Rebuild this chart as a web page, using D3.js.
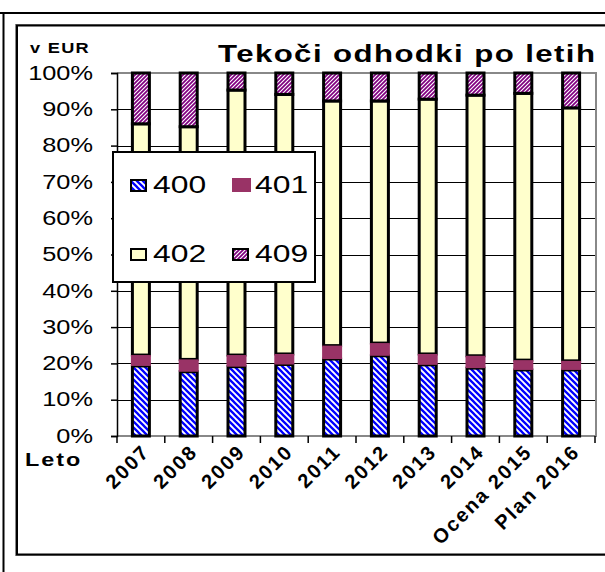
<!DOCTYPE html>
<meta charset="utf-8">
<style>
body { margin: 0; background: #fff; }
text { font-family: "Liberation Sans", Arial, sans-serif; }
</style>
<svg width="605" height="572"></svg>
<script src="https://d3js.org/d3.v7.min.js"></script>
<script>

var years = ["2007", "2008", "2009", "2010", "2011", "2012", "2013", "2014", "Ocena 2015", "Plan 2016"];
var s400 = [19.3, 17.7, 19.1, 19.7, 21.2, 22.1, 19.6, 18.7, 18.2, 18.2];
var s401 = [3.0, 3.4, 3.2, 2.9, 3.7, 3.5, 3.0, 3.4, 2.7, 2.5];
var s402 = [63.7, 64.1, 73.0, 71.5, 67.4, 66.7, 70.2, 71.8, 73.5, 69.7];
var s409 = [14.0, 14.8, 4.7, 5.9, 7.7, 7.7, 7.2, 6.1, 5.6, 9.6];
var keys = ["400", "401", "402", "409"];
var yTicks = [0, 0.1, 0.2, 0.3, 0.4, 0.5, 0.6, 0.7, 0.8, 0.9, 1];

var svg = d3.select("svg"),
    width = +svg.attr("width"),
    height = +svg.attr("height"),
    sx = 1.3; // the text in the original looks stretched sideways

var defs = svg.append("defs");

var p400 = defs.append("pattern").attr("id", "p400")
    .attr("patternUnits", "userSpaceOnUse").attr("width", 6).attr("height", 6);
p400.append("rect").attr("width", 6).attr("height", 6).attr("fill", "#fff");
p400.append("path").attr("d", "M-1,-1L7,7M-4,2L2,8M2,-4L8,2")
    .attr("stroke", "#0000ff").attr("stroke-width", 2.3);

var p409 = defs.append("pattern").attr("id", "p409")
    .attr("patternUnits", "userSpaceOnUse").attr("width", 4).attr("height", 4);
p409.append("rect").attr("width", 4).attr("height", 4).attr("fill", "#800080");
p409.append("path").attr("d", "M-1,5L5,-1M-1,1L1,-1M3,5L5,3")
    .attr("stroke", "#fff").attr("stroke-width", 1.1);

var fills = {"400": "url(#p400)", "401": "#993366", "402": "#ffffcc", "409": "url(#p409)"};

// frames
svg.append("line").attr("x1", 0).attr("x2", width).attr("y1", 13).attr("y2", 13)
    .attr("stroke", "#000").attr("stroke-width", 2);
svg.append("line").attr("x1", 3.5).attr("x2", 3.5).attr("y1", 13).attr("y2", height)
    .attr("stroke", "#000").attr("stroke-width", 2);
svg.append("rect").attr("x", 15.5).attr("y", 24.5).attr("width", 620).attr("height", 531)
    .attr("fill", "none").attr("stroke", "#888").attr("stroke-width", 1);
svg.append("rect").attr("x", 17).attr("y", 25.5).attr("width", 620).attr("height", 529)
    .attr("fill", "none").attr("stroke", "#000").attr("stroke-width", 2);

var x = d3.scaleBand().domain(years).range([117, 595]).padding(0);
var y = d3.scaleLinear().domain([0, 1]).range([436, 73]);
var barW = 20;

var rows = years.map(function(d, i) {
  return {year: d, "400": s400[i], "401": s401[i], "402": s402[i], "409": s409[i]};
});
var series = d3.stack().keys(keys).offset(d3.stackOffsetExpand)(rows);

// gridlines
svg.append("g").selectAll("line").data(yTicks.slice(1, -1)).join("line")
    .attr("x1", 117).attr("x2", 595)
    .attr("y1", function(d) { return Math.round(y(d)) + 0.5; })
    .attr("y2", function(d) { return Math.round(y(d)) + 0.5; })
    .attr("stroke", "#000").attr("stroke-width", 1);

// plot border (top, right, bottom gray)
svg.append("path")
    .attr("d", "M117," + y(1) + "H596V" + y(0) + "H117")
    .attr("fill", "none").attr("stroke", "#888").attr("stroke-width", 2);

// bars
var order = ["400", "402", "409", "401"];
order.forEach(function(k) {
  var s = series[keys.indexOf(k)];
  var bordered = k !== "401";
  svg.append("g").selectAll("rect").data(s).join("rect")
      .attr("x", function(d) { return x(d.data.year) + (x.bandwidth() - barW) / 2 + (bordered ? 1.5 : 0); })
      .attr("width", bordered ? barW - 3 : barW)
      .attr("y", function(d) { return y(d[1]); })
      .attr("height", function(d) { return y(d[0]) - y(d[1]); })
      .attr("fill", fills[k])
      .attr("stroke", bordered ? "#000" : "none")
      .attr("stroke-width", 3);
});

// y axis
var yAxis = svg.append("g").attr("transform", "translate(117,0)")
    .call(d3.axisLeft(y).tickValues(yTicks).tickFormat(d3.format(".0%"))
      .tickSize(6).tickPadding(12.5));
yAxis.select(".domain").attr("stroke", "#000").attr("stroke-width", 1.5);
yAxis.selectAll(".tick line").attr("stroke", "#000").attr("stroke-width", 1.5);
yAxis.selectAll(".tick text")
    .attr("transform", "scale(" + sx + ",1)")
    .attr("font-family", "Liberation Sans, Arial, sans-serif")
    .attr("font-size", 19.5).attr("fill", "#000");

// x ticks at band edges
var edges = years.map(function(d) { return x(d); }).concat([x.range()[1]]);
svg.append("g").selectAll("line").data(edges).join("line")
    .attr("x1", function(d) { return d; }).attr("x2", function(d) { return d; })
    .attr("y1", 436).attr("y2", 443)
    .attr("stroke", "#000").attr("stroke-width", 1.5);

// x labels
svg.append("g").selectAll("text").data(years).join("text")
    .attr("transform", function(d) {
      return "translate(" + (x(d) + x.bandwidth() / 2 + 10) + ",453) rotate(-45)";
    })
    .attr("text-anchor", "end")
    .attr("font-size", 20).attr("font-weight", "bold").attr("letter-spacing", "2px")
    .text(function(d) { return d; });

function stretched(px, py, size, bold, str) {
  return svg.append("text")
      .attr("transform", "translate(" + px + "," + py + ") scale(" + sx + ",1)")
      .attr("font-size", size).attr("font-weight", bold ? "bold" : null)
      .text(str);
}

stretched(25, 466, 18, true, "Leto").attr("letter-spacing", "1.5px");
stretched(30, 53, 14, true, "v EUR").attr("letter-spacing", "1px");
stretched(218, 62, 24, true, "Tekoči odhodki po letih")
    .attr("textLength", 377 / sx).attr("lengthAdjust", "spacing");

// legend
var lg = svg.append("g");
lg.append("rect").attr("x", 113).attr("y", 152).attr("width", 202).attr("height", 130)
    .attr("fill", "#fff").attr("stroke", "#000").attr("stroke-width", 2);
var legendPos = [[131, 193], [233, 193], [131, 262], [233, 262]];
keys.forEach(function(k, i) {
  var p = legendPos[i];
  var g = lg.append("g").attr("transform", "translate(" + p[0] + "," + p[1] + ")");
  if (k === "401") {
    g.append("rect").attr("x", -1).attr("y", -15).attr("width", 19).attr("height", 14)
        .attr("fill", fills[k]);
  } else {
    g.append("rect").attr("x", 0).attr("y", -13).attr("width", 15).attr("height", 11)
        .attr("fill", fills[k]).attr("stroke", "#000").attr("stroke-width", 2);
  }
  g.append("text").attr("transform", "translate(22,0) scale(" + sx + ",1)")
      .attr("font-size", 24.5)
      .text(k);
});

</script>
